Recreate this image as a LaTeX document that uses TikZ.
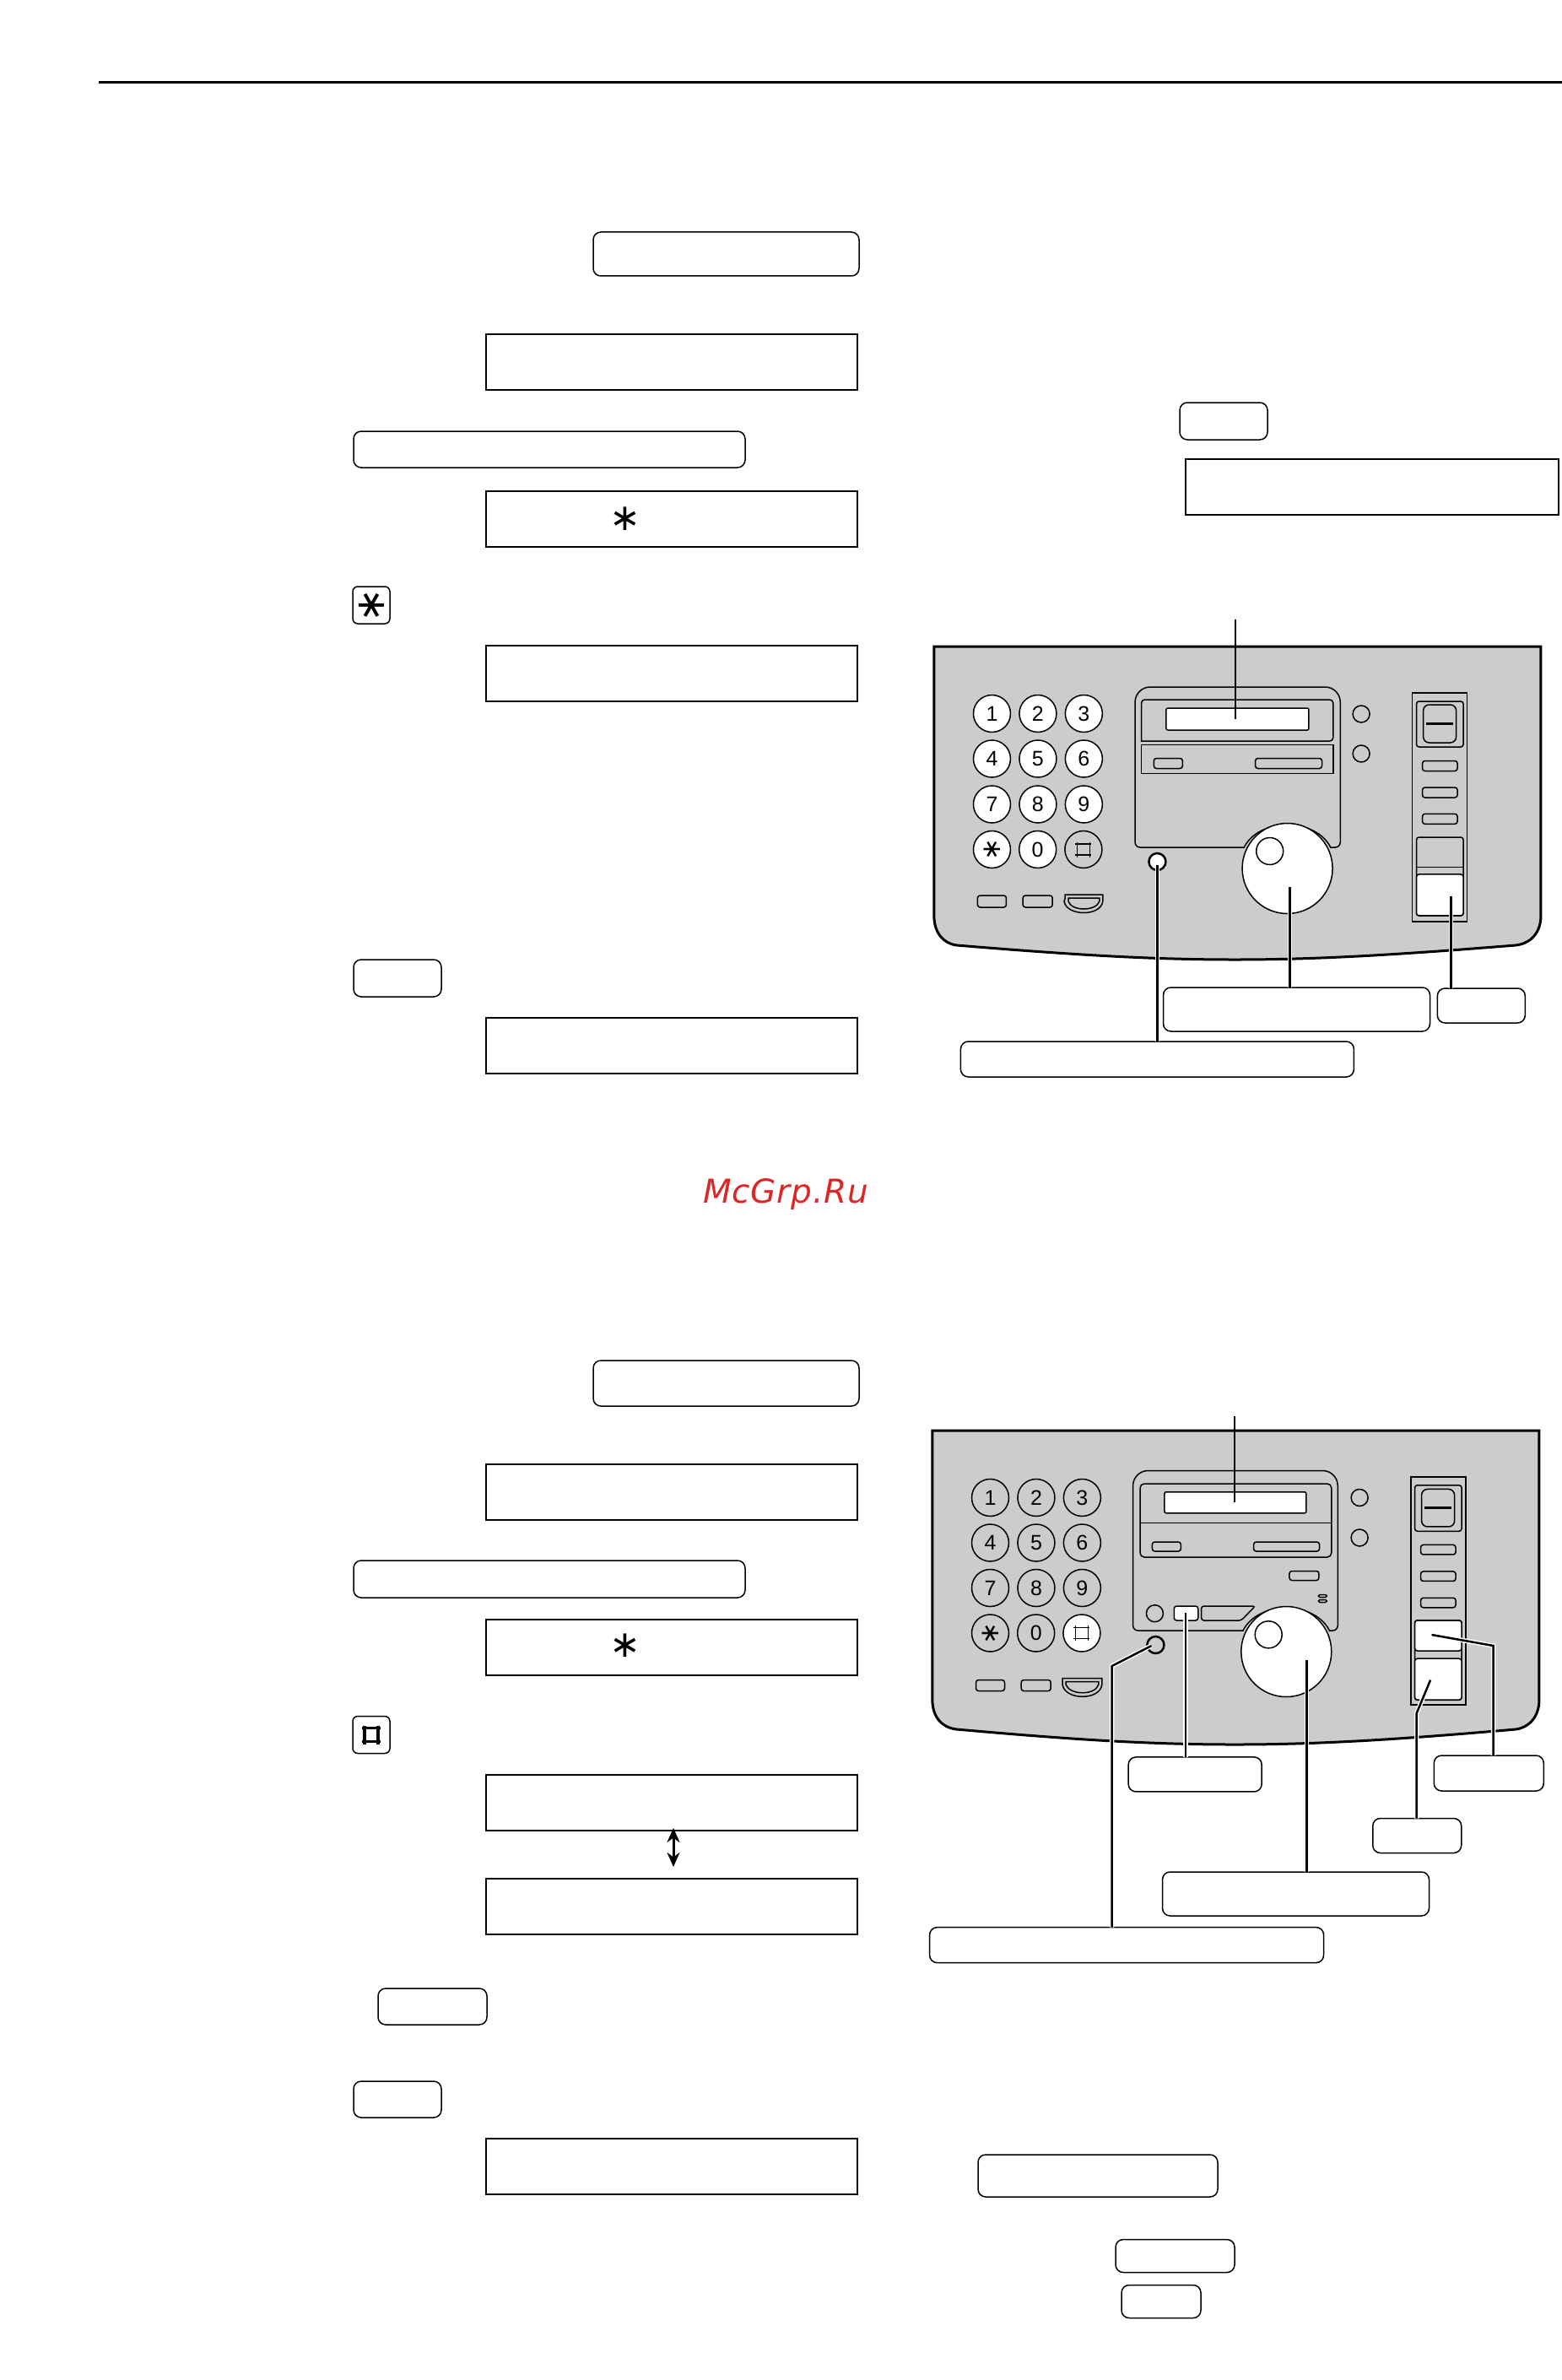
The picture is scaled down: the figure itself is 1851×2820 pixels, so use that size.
\documentclass[tikz,border=0pt]{standalone}
\usepackage{fontspec}
\setmainfont{Liberation Sans}
\newfontfamily\symbolfont{DejaVu Sans}
\newfontfamily\markfont[LetterSpace=2.3]{DejaVu Sans}
\usepackage{xcolor}
\usetikzlibrary{positioning, arrows.meta}
\definecolor{panelgrey}{gray}{0.8}
\definecolor{markred}{RGB}{222,38,38}

\begin{document}
\begin{tikzpicture}[x=1pt,y=-1pt,>={Stealth[length=17pt,width=15pt]},node distance=54.5pt]
	\tikzstyle{every node}=[inner sep=0pt,outer sep=0pt]
	\tikzstyle{faxkey}=[circle,draw,line width=1.5pt,minimum size=44pt,fill=panelgrey,font=\fontsize{25}{25}\selectfont]
	\tikzstyle{whitekey}=[faxkey,fill=white]
	\tikzstyle{starkey}=[font=\symbolfont\fontsize{31}{31}\selectfont,rotate=90]
	\tikzstyle{lcdbox}=[rectangle,draw,line width=2pt,fill=white,minimum width=440pt,minimum height=66pt]
	\tikzstyle{tagbox}=[rectangle,rounded corners=9pt,draw,line width=1.5pt,fill=white]
	\tikzstyle{keybox}=[tagbox,rounded corners=6pt,minimum size=44pt]
	\tikzstyle{slotbtn}=[rectangle,rounded corners=3pt,draw,line width=1.5pt,fill=panelgrey]
	\tikzstyle{roundbtn}=[circle,draw,line width=1.5pt,minimum size=20pt,fill=panelgrey]
	\tikzstyle{lampbtn}=[circle,draw,line width=2.5pt,minimum size=20pt,fill=panelgrey]
	\tikzstyle{dial}=[circle,draw,line width=1.5pt,minimum size=107pt,fill=white]
	\tikzstyle{knob}=[circle,draw,line width=1.5pt,minimum size=32pt,fill=white]
	\tikzstyle{rim}=[circle,minimum size=114pt,fill=panelgrey]
	\tikzstyle{faceline}=[line width=1.5pt]
	\tikzstyle{shell}=[line width=3pt,fill=panelgrey]
	\tikzstyle{leader}=[line width=2.5pt,preaction={draw=white,line width=5.5pt}]
	\tikzstyle{panelfit}=[xshift=5.83pt,xscale=0.9946]
	\useasboundingbox (0,0) rectangle (1851,2820);

	\coordinate (ruleL) at (117,98);
	\coordinate (ruleR) at (1851,98);
	\draw[line width=3pt] (ruleL) -- (ruleR);

	\node[tagbox,minimum width=315pt,minimum height=52pt] (tagA) at (860.5,301) {};
	\node[lcdbox] (lcdA) at (795.5,429) {};
	\node[tagbox,minimum width=464pt,minimum height=43pt] (tagB) at (651,532.5) {};
	\node[lcdbox] (lcdB) at (795.5,614.5) {};
	\node[font=\symbolfont\fontsize{44}{44}\selectfont] (starA) at (741,615) {∗};
	\node[keybox] (keyStar) at (440,717) {};
	\node[rotate=90,font=\symbolfont\fontsize{48}{48}\selectfont] (starB) at (keyStar) {∗};
	\node[lcdbox] (lcdC) at (795.5,798) {};
	\node[tagbox,minimum width=104pt,minimum height=44pt] (tagC) at (471,1159) {};
	\node[lcdbox] (lcdD) at (795.5,1238.5) {};
	\node[tagbox,minimum width=104pt,minimum height=44pt] (tagD) at (1450,499) {};
	\node[lcdbox,minimum width=442pt,minimum height=66pt] (lcdE) at (1626,577) {};

	\begin{scope}[panelfit]
	\draw[shell] (1107,766) -- (1830,766) -- (1830,1085)
		.. controls (1830,1105) and (1818,1118) .. (1800,1120)
		.. controls (1650,1132) and (1560,1137) .. (1465,1137)
		.. controls (1370,1137) and (1280,1132) .. (1134,1120)
		.. controls (1118,1118) and (1107,1105) .. (1107,1085) -- cycle;

	\node[whitekey] (a1) at (1176,845.5) {1};
	\node[whitekey] (a2) [right of=a1] {2};
	\node[whitekey] (a3) [right of=a2] {3};
	\node[whitekey] (a4) at (1176,899) {4};
	\node[whitekey] (a5) [right of=a4] {5};
	\node[whitekey] (a6) [right of=a5] {6};
	\node[whitekey] (a7) at (1176,953) {7};
	\node[whitekey] (a8) [right of=a7] {8};
	\node[whitekey] (a9) [right of=a8] {9};
	\node[whitekey,starkey] (aStar) at (1176,1006.5) {∗};
	\node[whitekey] (a0) at (1230.5,1006.5) {0};
	\node[faxkey] (aHash) at (1285,1006.5) {};
	\draw[faceline] (aHash) ++(-7.5,-9) -- ++(0,18) (aHash) ++(7.5,-9) -- ++(0,18)
		(aHash) ++(-9.5,-6.5) -- ++(19,0) (aHash) ++(-9.5,6.5) -- ++(19,0);

	\node[slotbtn,minimum width=34pt,minimum height=14pt] (aBtnL) at (1176,1068) {};
	\node[slotbtn,minimum width=35pt,minimum height=14pt] (aBtnM) at (1230.5,1068) {};
	\draw[faceline] (1263,1065) -- (1263,1060) -- (1308,1060) -- (1308,1068)
		.. controls (1306,1086) and (1265,1086) .. (1262,1068) -- cycle;
	\draw[faceline] (1267,1064) -- (1304,1064) -- (1304,1068)
		.. controls (1300,1080) and (1271,1080) .. (1267,1068) -- cycle;

	\draw[faceline,fill=panelgrey] [rounded corners=6pt] (1450,1004) -- (1346.5,1004)
		[rounded corners=18pt] -- (1346.5,814) -- (1591,814)
		[rounded corners=6pt] -- (1591,1004) -- cycle;
	\draw[faceline] [rounded corners=4pt] (1354,878) -- (1354,829) -- (1582.5,829) -- (1582.5,878) [sharp corners] -- cycle;
	\draw[faceline] (1354,882.5) rectangle (1582.5,916.5);
	\node[slotbtn,fill=white,rounded corners=2pt,minimum width=169pt,minimum height=26pt] (lcdP) at (1468.5,852) {};
	\node[slotbtn,minimum width=34pt,minimum height=12pt] (softL) at (1386,904.5) {};
	\node[slotbtn,minimum width=79pt,minimum height=12pt] (softR) at (1529.5,904.5) {};
	\node[roundbtn] (ledA) at (1616,846) {};
	\node[roundbtn] (ledB) at (1616,893) {};

	\node[rectangle,draw,line width=1.5pt,minimum width=65pt,minimum height=271pt] (stripA) at (1709.5,956.5) {};
	\node[slotbtn,minimum width=55.5pt,minimum height=54pt] (hookA) at (1709.7,858) {};
	\node[slotbtn,rounded corners=7pt,minimum width=39pt,minimum height=45pt] (hookB) at (1709.5,857.5) {};
	\coordinate (hookL) at (1693,857.7);
	\coordinate (hookR) at (1725.6,857.7);
	\draw[line width=3pt] (hookL) -- (hookR);
	\node[slotbtn,minimum width=41.5pt,minimum height=12pt] (sideA) at (1709.7,907.5) {};
	\node[slotbtn,minimum width=41.5pt,minimum height=12pt] (sideB) at (1709.7,939) {};
	\node[slotbtn,minimum width=41.5pt,minimum height=12pt] (sideC) at (1709.7,970.3) {};
	\node[slotbtn,minimum width=55.5pt,minimum height=93pt] (blockA) at (1709.7,1038.5) {};
	\draw[faceline] (1682,1027.7) -- (1737.5,1027.7);
	\node[slotbtn,fill=white,minimum width=55.5pt,minimum height=49pt] (startA) at (1709.7,1060.4) {};

	\node[rim] (rimA) at (1528,1029) {};
	\draw[faceline] (rimA.155) to[bend left=65] (rimA.25);
	\node[dial] (dialA) at (1528,1029) {};
	\node[knob] (knobA) at (1507,1008.5) {};
	\node[lampbtn,fill=white] (lampA) at (1373,1021) {};

	\node[tagbox,minimum width=316pt,minimum height=52pt] (tagE) at (1539,1196) {};
	\node[tagbox,minimum width=104pt,minimum height=41pt] (tagF) at (1759,1191.5) {};
	\node[tagbox,minimum width=466pt,minimum height=42pt] (tagG) at (1373,1255) {};

	\coordinate (lcdTipA) at (1466,734);
	\coordinate (lampTipA) at (1373,1025);
	\coordinate (dialTipA) at (1531,1051);
	\coordinate (startTipA) at (1723,1061.5);
	\draw[line width=2.5pt] (lcdTipA) -- (lcdTipA |- lcdP.center);
	\draw[leader] (lampTipA) -- (lampTipA |- tagG.north);
	\draw[leader] (dialTipA) -- (dialTipA |- tagE.north);
	\draw[leader] (startTipA) -- (startTipA |- tagF.north);
	\end{scope}

	\node[font=\markfont\itshape\fontsize{39}{39}\selectfont,text=markred,anchor=base west] (mark) at (833,1425) {McGrp.Ru};

	\node[tagbox,minimum width=315pt,minimum height=54pt] (tagH) at (860.5,1639) {};
	\node[lcdbox] (lcdF) at (795.5,1767.5) {};
	\node[tagbox,minimum width=464pt,minimum height=44pt] (tagI) at (651,1871) {};
	\node[lcdbox] (lcdG) at (795.5,1951.5) {};
	\node[font=\symbolfont\fontsize{44}{44}\selectfont] (starC) at (741,1950) {∗};
	\node[keybox] (keyHash) at (440,2055.5) {};
	\draw[line width=3.5pt] (keyHash) ++(-8,-11) -- ++(0,22) (keyHash) ++(8,-11) -- ++(0,22)
		(keyHash) ++(-11,-8) -- ++(22,0) (keyHash) ++(-11,8) -- ++(22,0);
	\node[lcdbox] (lcdH) at (795.5,2135.5) {};
	\node[lcdbox] (lcdI) at (795.5,2259) {};
	\coordinate (flipT) at (798,2166);
	\coordinate (flipB) at (798,2212);
	\draw[<->,line width=3pt] (flipT) -- (flipB);
	\node[tagbox,minimum width=129pt,minimum height=43pt] (tagJ) at (512.5,2377.5) {};
	\node[tagbox,minimum width=104pt,minimum height=43pt] (tagK) at (471,2487.5) {};
	\node[lcdbox] (lcdJ) at (795.5,2566.5) {};
	\node[tagbox,minimum width=284pt,minimum height=50pt] (tagL) at (1301,2578) {};
	\node[tagbox,minimum width=141pt,minimum height=39pt] (tagM) at (1392.5,2673) {};
	\node[tagbox,minimum width=94pt,minimum height=39pt] (tagN) at (1376,2727) {};

	\begin{scope}[panelfit]
	\draw[shell] (1105,1695) -- (1828,1695) -- (1828,2014)
		.. controls (1828,2034) and (1816,2047) .. (1800,2049)
		.. controls (1650,2062) and (1560,2067) .. (1465,2067)
		.. controls (1370,2067) and (1280,2062) .. (1134,2049)
		.. controls (1116,2047) and (1105,2034) .. (1105,2014) -- cycle;

	\node[faxkey] (b1) at (1174,1774.5) {1};
	\node[faxkey] (b2) [right of=b1] {2};
	\node[faxkey] (b3) [right of=b2] {3};
	\node[faxkey] (b4) at (1174,1828) {4};
	\node[faxkey] (b5) [right of=b4] {5};
	\node[faxkey] (b6) [right of=b5] {6};
	\node[faxkey] (b7) at (1174,1881.5) {7};
	\node[faxkey] (b8) [right of=b7] {8};
	\node[faxkey] (b9) [right of=b8] {9};
	\node[faxkey,starkey] (bStar) at (1174,1935) {∗};
	\node[faxkey] (b0) at (1228.5,1935) {0};
	\node[whitekey] (bHash) at (1283,1935) {};
	\draw[faceline] (bHash) ++(-7.5,-9) -- ++(0,18) (bHash) ++(7.5,-9) -- ++(0,18)
		(bHash) ++(-9.5,-6.5) -- ++(19,0) (bHash) ++(-9.5,6.5) -- ++(19,0);

	\node[slotbtn,minimum width=34pt,minimum height=13pt] (bBtnL) at (1174,1997) {};
	\node[slotbtn,minimum width=35pt,minimum height=13pt] (bBtnM) at (1228.5,1997) {};
	\draw[faceline] (1260,1993) -- (1260,1988.5) -- (1307,1988.5) -- (1307,1996)
		.. controls (1305,2015) and (1263,2015) .. (1260,1996) -- cycle;
	\draw[faceline] (1264,1992.5) -- (1303,1992.5) -- (1303,1996)
		.. controls (1299,2009) and (1269,2009) .. (1264,1996) -- cycle;

	\draw[faceline,fill=panelgrey] [rounded corners=6pt] (1450,1932) -- (1344,1932)
		[rounded corners=18pt] -- (1344,1742.5) -- (1588,1742.5)
		[rounded corners=6pt] -- (1588,1932) -- cycle;
	\draw[faceline,rounded corners=5pt] (1352.5,1758) rectangle (1580.5,1845);
	\draw[faceline] (1352.5,1804.5) -- (1580.5,1804.5);
	\node[slotbtn,fill=white,rounded corners=2pt,minimum width=168pt,minimum height=25pt] (lcdQ) at (1466,1780.3) {};
	\node[slotbtn,minimum width=34pt,minimum height=11pt] (softC) at (1384,1832.5) {};
	\node[slotbtn,minimum width=78pt,minimum height=11pt] (softD) at (1527,1832.5) {};
	\node[slotbtn,minimum width=35pt,minimum height=11pt] (softE) at (1548,1867) {};
	\node[slotbtn,rounded corners=1.5pt,minimum width=10pt,minimum height=3pt] (slotF) at (1570,1891) {};
	\node[slotbtn,rounded corners=1.5pt,minimum width=10pt,minimum height=3pt] (slotG) at (1570,1897) {};
	\node[roundbtn] (ledC) at (1370,1911.7) {};
	\node[slotbtn,fill=white,minimum width=28.5pt,minimum height=17pt] (setBtn) at (1407.3,1911.5) {};
	\draw[faceline,rounded corners=3pt] (1425.5,1903) -- (1489.7,1903) -- (1473,1920) -- (1425.5,1920) -- cycle;
	\node[roundbtn] (ledD) at (1614,1774.5) {};
	\node[roundbtn] (ledE) at (1614,1822) {};

	\node[rectangle,draw,line width=1.5pt,minimum width=65pt,minimum height=270pt] (stripB) at (1707.7,1885) {};
	\node[slotbtn,minimum width=55.5pt,minimum height=54.5pt] (hookC) at (1707.7,1787) {};
	\node[slotbtn,rounded corners=7pt,minimum width=39pt,minimum height=44.5pt] (hookD) at (1707.5,1786.7) {};
	\coordinate (hookM) at (1691,1786.5);
	\coordinate (hookN) at (1724,1786.5);
	\draw[line width=3pt] (hookM) -- (hookN);
	\node[slotbtn,minimum width=41.5pt,minimum height=11.5pt] (sideD) at (1707.7,1836.2) {};
	\node[slotbtn,minimum width=41.5pt,minimum height=11.5pt] (sideE) at (1707.7,1867.7) {};
	\node[slotbtn,minimum width=41.5pt,minimum height=11.5pt] (sideF) at (1707.7,1899) {};
	\node[slotbtn,minimum width=55.5pt,minimum height=94.5pt] (blockB) at (1707.7,1967) {};
	\node[slotbtn,fill=white,minimum width=55.5pt,minimum height=36pt] (startB) at (1707.7,1938) {};
	\node[slotbtn,fill=white,minimum width=55.5pt,minimum height=49pt] (stopB) at (1707.7,1989.7) {};

	\node[rim] (rimB) at (1526.7,1957) {};
	\draw[faceline] (rimB.155) to[bend left=65] (rimB.25);
	\node[dial] (dialB) at (1526.7,1957) {};
	\node[knob] (knobB) at (1505.5,1936.8) {};
	\node[lampbtn] (lampB) at (1371,1949) {};

	\node[tagbox,minimum width=158pt,minimum height=41pt] (tagO) at (1418,2102.4) {};
	\node[tagbox,minimum width=130pt,minimum height=42pt] (tagP) at (1768,2101) {};
	\node[tagbox,minimum width=105pt,minimum height=41pt] (tagQ) at (1682.5,2175) {};
	\node[tagbox,minimum width=316pt,minimum height=52pt] (tagR) at (1538,2244) {};
	\node[tagbox,minimum width=467pt,minimum height=42pt] (tagS) at (1336.5,2304.6) {};

	\coordinate (lcdTipB) at (1465,1678);
	\coordinate (setTip) at (1406.7,1911);
	\coordinate (dialTipB) at (1551,1967);
	\coordinate (lampTipB) at (1366,1950);
	\coordinate (lampBend) at (1319,1974);
	\coordinate (startTipB) at (1700,1937);
	\coordinate (startBend) at (1773.5,1950);
	\coordinate (stopTip) at (1698.5,1990.6);
	\coordinate (stopBend) at (1682,2030);
	\draw[line width=2.5pt] (lcdTipB) -- (lcdTipB |- lcdQ.center);
	\draw[leader] (setTip) -- (setTip |- tagO.north);
	\draw[leader] (dialTipB) -- (dialTipB |- tagR.north);
	\draw[leader] (lampTipB) -- (lampBend) -- (lampBend |- tagS.north);
	\draw[leader] (startTipB) -- (startBend) -- (startBend |- tagP.north);
	\draw[leader] (stopTip) -- (stopBend) -- (stopBend |- tagQ.north);
	\end{scope}
\end{tikzpicture}
\end{document}
